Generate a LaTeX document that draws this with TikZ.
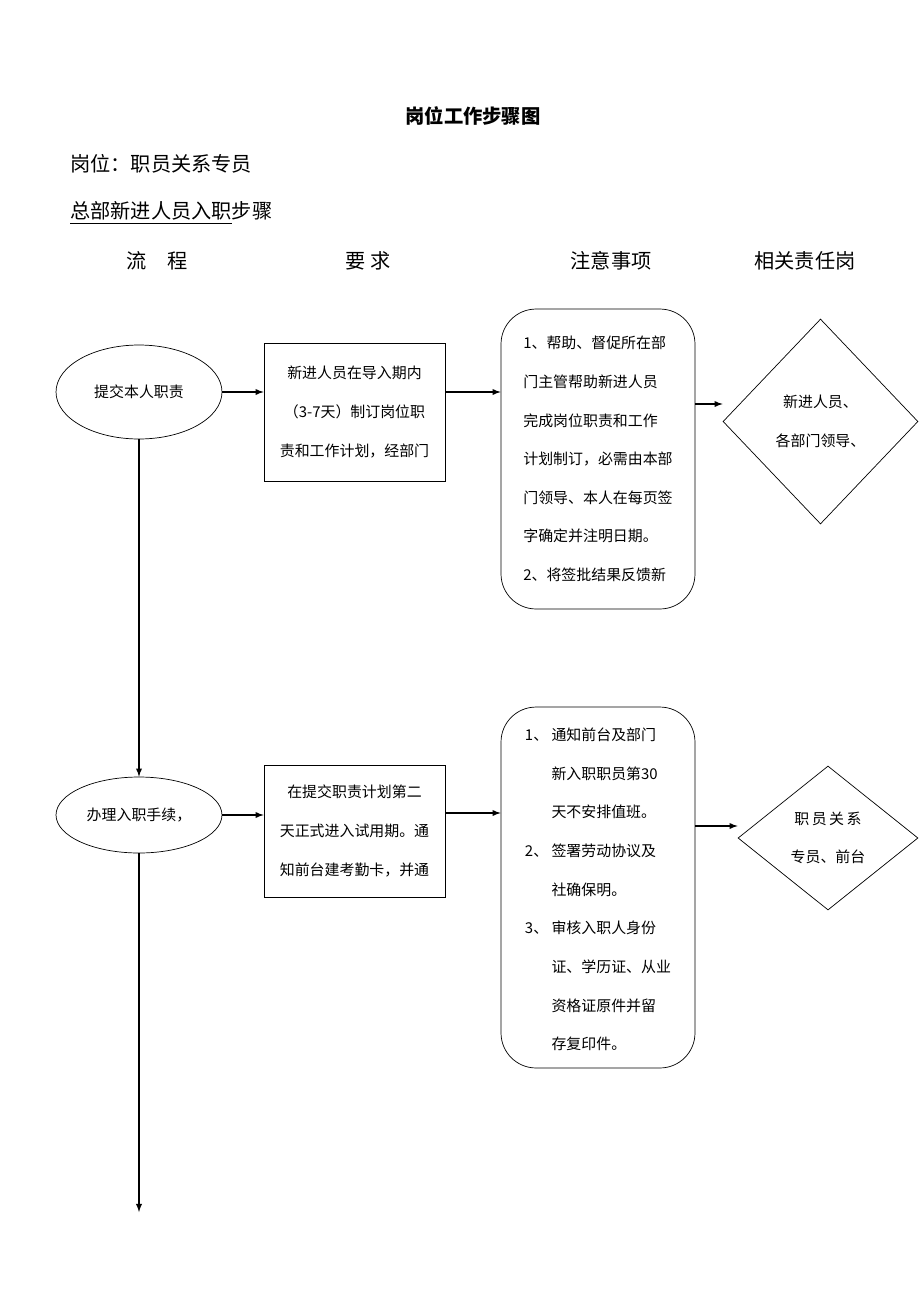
\documentclass[tikz,border=0pt]{standalone}
\usepackage{fontspec}
\setmainfont{Noto Sans CJK SC}
\usetikzlibrary{shapes.geometric}
\tikzstyle{flow} = [ellipse, draw=black, minimum width=3.32cm, text centered, font=\fontsize{8.5pt}{10pt}\selectfont]
\tikzstyle{req} = [rectangle, draw=black, minimum width=3.62cm, align=center, font=\fontsize{8.5pt}{22pt}\selectfont]
\tikzstyle{note} = [rectangle, rounded corners=0.7cm, draw=black, minimum width=3.88cm, align=left, font=\fontsize{8.5pt}{22pt}\selectfont]
\tikzstyle{duty} = [diamond, draw=black, align=center, inner sep=0pt, font=\fontsize{8.5pt}{22pt}\selectfont]
\tikzstyle{arrow} = [semithick,->,>=latex]

\begin{document}
\begin{tikzpicture}[x=0.02cm,y=-0.02cm]
\useasboundingbox (0,0) rectangle (920,1302);
% headings
\node (title) at (473,116) {\fontsize{11pt}{13pt}\selectfont\bfseries 岗位工作步骤图};
\node (post) [anchor=west,inner sep=0pt] at (70,164) {\fontsize{11.5pt}{13pt}\selectfont 岗位：职员关系专员};
\node (sub) [anchor=west,inner sep=0pt] at (70,213) {\fontsize{11.5pt}{13pt}\selectfont\underline{总部新进人员入职}步骤};
\node (h1) at (157,261) {\fontsize{11.5pt}{13pt}\selectfont 流\quad 程};
\node (h2) at (368,261) {\fontsize{11.5pt}{13pt}\selectfont 要 求};
\node (h3) at (611,261) {\fontsize{11.5pt}{13pt}\selectfont 注意事项};
\node (h4) at (805,261) {\fontsize{11.5pt}{13pt}\selectfont 相关责任岗};

% first step
\node (flow1) [flow, minimum height=1.88cm] at (139,392) {提交本人职责};
\node (req1) [req, minimum height=2.76cm] at (354.5,412) {新进人员在导入期内\\（3-7天）制订岗位职\\责和工作计划，经部门};
\node (note1) [note, minimum height=6.0cm] at (598,459) {1、帮助、督促所在部\\门主管帮助新进人员\\完成岗位职责和工作\\计划制订，必需由本部\\门领导、本人在每页签\\字确定并注明日期。\\2、将签批结果反馈新};
\node (duty1) [duty, minimum width=3.9cm, minimum height=4.1cm] at (820.5,421.5) {新进人员、\\各部门领导、};

% second step
\node (flow2) [flow, minimum height=1.52cm] at (139,815) {办理入职手续，};
\node (req2) [req, minimum height=2.64cm] at (354.5,831) {在提交职责计划第二\\天正式进入试用期。通\\知前台建考勤卡，并通};
\node (note2) [note, minimum height=7.22cm] at (598,887.5) {\begin{tabular}{@{}l@{\ }l@{}}
1、& 通知前台及部门\\ & 新入职职员第30\\ & 天不安排值班。\\
2、& 签署劳动协议及\\ & 社确保明。\\
3、& 审核入职人身份\\ & 证、学历证、从业\\ & 资格证原件并留\\ & 存复印件。\end{tabular}};
\node (duty2) [duty, minimum width=3.6cm, minimum height=2.88cm] at (828,838) {职\,员\,关\,系\\专员、前台};
\coordinate (end) at (139,1212);

\draw [arrow] (flow1) -- (req1.west |- flow1);
\draw [arrow] (req1.east |- flow1) -- (note1.west |- flow1);
\draw [arrow] (note1.east |- 0,404) -- (duty1.west |- 0,404);
\draw [arrow] (flow1) -- (flow2);
\draw [arrow] (flow2) -- (req2.west |- flow2);
\draw [arrow] (req2.east |- 0,813) -- (note2.west |- 0,813);
\draw [arrow] (note2.east |- 0,826) -- (duty2.west |- 0,826);
\draw [arrow] (flow2) -- (end);
\end{tikzpicture}
\end{document}
